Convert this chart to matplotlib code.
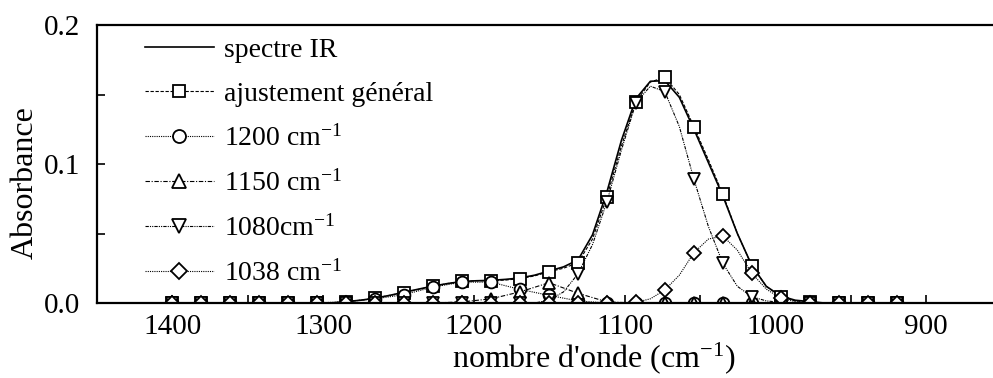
import matplotlib
matplotlib.use("Agg")
import matplotlib.pyplot as plt
from matplotlib.ticker import FixedLocator, FormatStrFormatter

plt.rcParams['font.family'] = ['Liberation Serif', 'DejaVu Serif']
plt.rcParams['mathtext.default'] = 'regular'

# wavenumbers (cm-1): fine grid (markers on every 2nd point) and marker grid
wn_fine = [1400.0, 1390.4, 1380.8, 1371.2, 1361.6, 1351.9, 1342.3, 1332.7, 1323.1, 1313.5,
           1303.9, 1294.3, 1284.7, 1275.1, 1265.5, 1255.8, 1246.2, 1236.6, 1227.0, 1217.4,
           1207.8, 1198.2, 1188.6, 1179.0, 1169.4, 1159.7, 1150.1, 1140.5, 1130.9, 1121.3,
           1111.7, 1102.1, 1092.5, 1082.9, 1073.3, 1063.7, 1054.0, 1044.4, 1034.8, 1025.2,
           1015.6, 1006.0, 996.4, 986.8, 977.2, 967.6, 957.9, 948.3, 938.7, 929.1, 919.5]
wn_mark = [1400.0, 1380.8, 1361.6, 1342.3, 1323.1, 1303.9, 1284.7, 1265.5, 1246.2, 1227.0,
           1207.8, 1188.6, 1169.4, 1150.1, 1130.9, 1111.7, 1092.5, 1073.3, 1054.0, 1034.8,
           1015.6, 996.4, 977.2, 957.9, 938.7, 919.5]

spectre_ir = [0, 0, 0, 0, 0, 0, 0, 0, 0, 0, 0, 0,
              0.001, 0.002, 0.0035, 0.0055, 0.0078, 0.010, 0.0122, 0.014, 0.0155, 0.016,
              0.0163, 0.017, 0.018, 0.020, 0.023, 0.026, 0.031, 0.049, 0.080, 0.117,
              0.147, 0.1595, 0.160, 0.148, 0.125, 0.101, 0.077, 0.050, 0.027, 0.012,
              0.005, 0.002, 0.001, 0, 0, 0, 0, 0, 0]
ajustement = [0, 0, 0, 0, 0, 0, 0, 0, 0, 0, 0, 0,
              0.001, 0.002, 0.0035, 0.0055, 0.0075, 0.0098, 0.012, 0.014, 0.0155, 0.016,
              0.016, 0.0165, 0.0175, 0.0195, 0.0225, 0.025, 0.029, 0.046, 0.0765, 0.113,
              0.1448, 0.159, 0.1624, 0.150, 0.1268, 0.103, 0.0782, 0.050, 0.0269, 0.012,
              0.0045, 0.0015, 0.0005, 0, 0, 0, 0, 0, 0]
c1080 = [0] * 26 + [0.002, 0.008, 0.021, 0.042, 0.073, 0.110, 0.144, 0.156, 0.152, 0.127,
                    0.089, 0.055, 0.0285, 0.012, 0.0045, 0.0015, 0.0005, 0, 0, 0, 0, 0, 0, 0, 0]
c1038 = [0] * 32 + [0.0005, 0.003, 0.0094, 0.020, 0.0362, 0.046, 0.0482, 0.038, 0.0214,
                    0.010, 0.0034, 0.001, 0.0003, 0, 0, 0, 0, 0, 0]
c1200 = [0, 0, 0, 0, 0, 0, 0.001, 0.003, 0.006, 0.0115, 0.015, 0.015, 0.0098, 0.0055,
         0.0015, 0, 0, 0, 0, 0, 0, 0, 0, 0, 0, 0]
c1150 = [0, 0, 0, 0, 0, 0, 0, 0, 0, 0, 0.0008, 0.003, 0.008, 0.0146, 0.007, 0.0008,
         0, 0, 0, 0, 0, 0, 0, 0, 0, 0]

labels = ['spectre IR', 'ajustement général', '1200 cm$^{-1}$', '1150 cm$^{-1}$',
          '1080cm$^{-1}$', '1038 cm$^{-1}$']
x_major = [1400, 1300, 1200, 1100, 1000, 900]
x_minor = [1350, 1250, 1150, 1050, 950]
y_major = [0.0, 0.1, 0.2]
y_minor = [0.05, 0.15]

fig = plt.figure(figsize=(9.93, 3.78), dpi=100)
ax = fig.add_axes([97 / 993, 75 / 378, 896 / 993, 278 / 378])

mk = dict(markerfacecolor='white', markeredgecolor='black', markeredgewidth=1.3)
h0, = ax.plot(wn_fine, spectre_ir, color='black', lw=1.2, label=labels[0])
h1, = ax.plot(wn_fine, ajustement, color='black', lw=0.8, ls=(0, (3, 1.5)), marker='s',
              markersize=8, markevery=2, label=labels[1], **mk)
h2, = ax.plot(wn_mark, c1200, color='black', lw=0.8, ls=(0, (1, 1)), marker='o',
              markersize=8.5, label=labels[2], **mk)
h3, = ax.plot(wn_mark, c1150, color='black', lw=0.8, ls=(0, (4, 1.5, 1, 1.5)), marker='^',
              markersize=9, label=labels[3], **mk)
h4, = ax.plot(wn_fine, c1080, color='black', lw=0.8, ls=(0, (3, 1, 1, 1, 1, 1)), marker='v',
              markersize=9, markevery=2, label=labels[4], **mk)
h5, = ax.plot(wn_fine, c1038, color='black', lw=0.8, ls=(0, (1, 1)), marker='D',
              markersize=7.5, markevery=2, label=labels[5], **mk)

ax.set_xlim(1450, 855.6)
ax.set_ylim(0, 0.2)
ax.xaxis.set_major_locator(FixedLocator(x_major))
ax.xaxis.set_minor_locator(FixedLocator(x_minor))
ax.yaxis.set_major_locator(FixedLocator(y_major))
ax.yaxis.set_minor_locator(FixedLocator(y_minor))
ax.yaxis.set_major_formatter(FormatStrFormatter('%.1f'))
ax.tick_params(which='major', direction='in', length=6, width=1.2, labelsize=21)
ax.tick_params(which='minor', direction='in', length=6, width=1.2)
ax.tick_params(axis='x', which='major', pad=8)
ax.tick_params(axis='y', which='major', pad=12)

for s in ['left', 'bottom', 'top']:
    ax.spines[s].set_linewidth(1.6)
ax.spines['right'].set_visible(False)

ax.set_xlabel("nombre d'onde (cm$^{-1}$)", fontsize=23, labelpad=0)
ax.set_ylabel('Absorbance', fontsize=23, labelpad=3)
ax.xaxis.label.set_x(0.555)
ax.yaxis.label.set_y(0.435)

leg = ax.legend(handles=[h0, h1, h2, h3, h4, h5], loc='upper left',
                bbox_to_anchor=(0.0376, 1.004), frameon=False, fontsize=20,
                handlelength=2.5, handletextpad=0.36, labelspacing=0.66, borderpad=0,
                markerscale=1.1)

fig.savefig('out.png', dpi=100)
